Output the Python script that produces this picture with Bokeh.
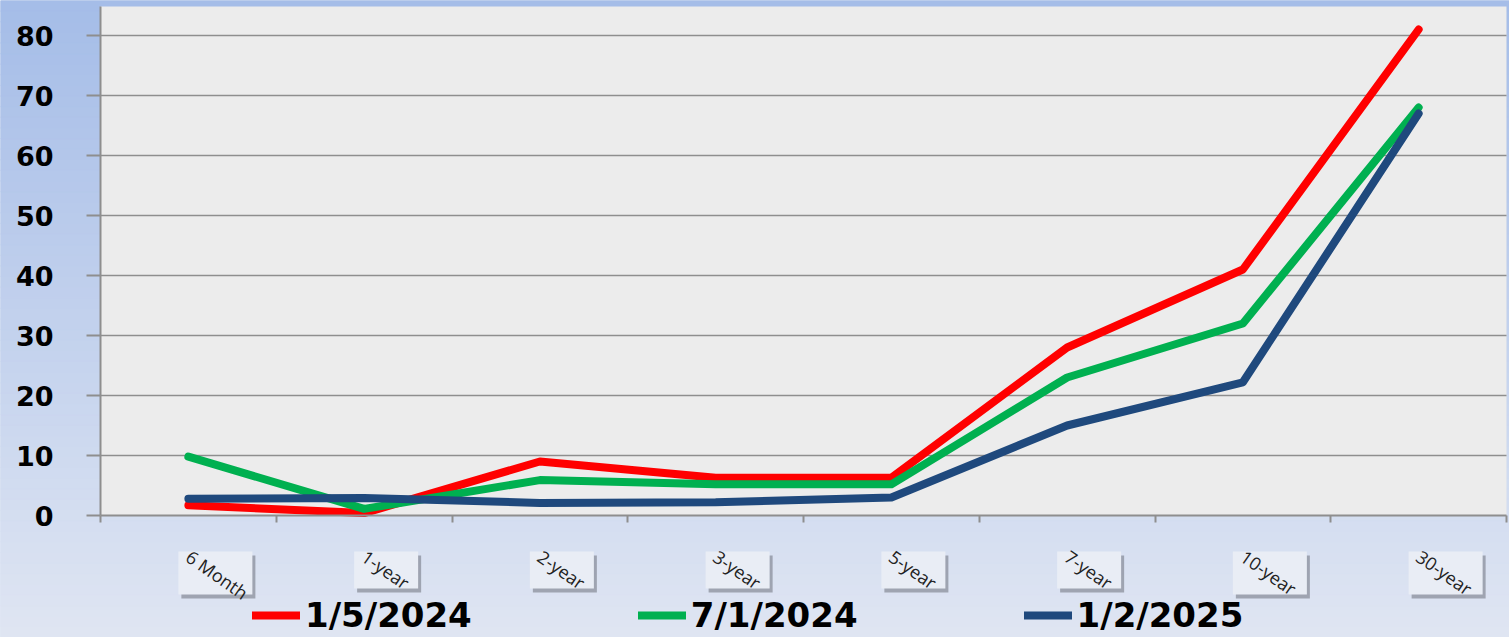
import math
import numpy as np
from bokeh.plotting import figure
from bokeh.models import Range1d, FixedTicker, Legend, LegendItem
from bokeh.embed import file_html
from bokeh.resources import INLINE

# ---------------- data ----------------
categories = ["6 Month", "1-year", "2-year", "3-year", "5-year", "7-year", "10-year", "30-year"]
series_names = ["1/5/2024", "7/1/2024", "1/2/2025"]
s_2024_01_05 = [1.7, 0.4, 9.0, 6.3, 6.3, 28, 41, 81]
s_2024_07_01 = [9.8, 1.1, 5.9, 5.2, 5.2, 23, 32, 68]
s_2025_01_02 = [2.8, 2.9, 2.1, 2.2, 3.0, 15, 22.2, 67]
series_colors = ["#ff0000", "#00b050", "#1f497d"]
y_ticks = [0, 10, 20, 30, 40, 50, 60, 70, 80]

# ---------------- geometry ----------------
W, H = 1509, 637
left_px, right_px, top_px, zero_px = 100, 1506, 6, 515
n = len(categories)
px_per_cat = (right_px - left_px) / n
px_per_unit = 6.0
x_start = -left_px / px_per_cat
x_end = (W - left_px) / px_per_cat
y_start = -(H - zero_px) / px_per_unit
y_end = zero_px / px_per_unit
y_top = (zero_px - top_px) / px_per_unit

centers = [i + 0.5 for i in range(n)]

p = figure(width=W, height=H, x_range=Range1d(x_start, x_end), y_range=Range1d(y_start, y_end),
           min_border=0, toolbar_location=None, output_backend="svg")
p.outline_line_color = None
p.border_fill_color = "#c4d2ec"
p.background_fill_color = "#c4d2ec"
p.grid.visible = False

# background gradient strips
ns = 60
edges = np.linspace(y_start, y_end, ns + 1)
c_bot = np.array([0xe0, 0xe6, 0xf3])
c_top = np.array([0xa5, 0xbd, 0xe8])
cols = []
for k in range(ns):
    t = (k + 0.5) / ns
    c = (c_bot * (1 - t) + c_top * t).astype(int)
    cols.append("#%02x%02x%02x" % tuple(c))
p.quad(left=x_start, right=x_end, bottom=edges[:-1], top=edges[1:], fill_color=cols, line_color=cols, line_width=1)

# plot area
p.quad(left=0, right=n, bottom=0, top=y_top, fill_color="#ececec", line_color=None)

# grid lines
p.segment(x0=0, x1=n, y0=y_ticks[1:], y1=y_ticks[1:], line_color="#8e8e8e", line_width=1.6)

# category label boxes (with shadow)
bl, br, bb, bt = [], [], [], []
for i, c in enumerate(categories):
    w_px = 10 * len(c) + 4
    h_px = 6 * len(c) + 1
    l = centers[i] - 10 / px_per_cat
    t = -36 / px_per_unit
    bl.append(l); br.append(l + w_px / px_per_cat)
    bt.append(t); bb.append(t - h_px / px_per_unit)
sx = 3 / px_per_cat
sy = 4 / px_per_unit
p.quad(left=[v + sx for v in bl], right=[v + sx for v in br], bottom=[v - sy for v in bb],
       top=[v - sy for v in bt], fill_color="#6d717c", fill_alpha=0.55, line_color=None)
p.quad(left=bl, right=br, bottom=bb, top=bt, fill_color="#e9edf5", line_color=None)

# lines
renderers = []
for vals, col in zip([s_2024_01_05, s_2024_07_01, s_2025_01_02], series_colors):
    r = p.line(x=centers, y=vals, line_color=col, line_width=8, line_cap="round", line_join="round")
    renderers.append(r)

# axes
yax = p.yaxis[0]
yax.fixed_location = 0
yax.ticker = FixedTicker(ticks=y_ticks, minor_ticks=[])
yax.bounds = (0, y_top)
yax.axis_line_color = "#8e8e8e"
yax.axis_line_width = 2
yax.major_tick_out = 14
yax.major_tick_in = 0
yax.major_tick_line_color = "#8e8e8e"
yax.major_tick_line_width = 2
yax.minor_tick_line_color = None
yax.major_label_text_font = "DejaVu Sans"
yax.major_label_text_font_style = "bold"
yax.major_label_text_font_size = "27px"
yax.major_label_text_color = "#000000"
yax.major_label_standoff = 33

xax = p.xaxis[0]
xax.fixed_location = 0
xax.ticker = FixedTicker(ticks=centers, minor_ticks=list(range(n + 1)))
xax.bounds = (0, n)
xax.axis_line_color = "#8e8e8e"
xax.axis_line_width = 2
xax.major_tick_line_color = None
xax.major_tick_out = 0
xax.major_tick_in = 0
xax.minor_tick_out = 7
xax.minor_tick_in = 0
xax.minor_tick_line_color = "#8e8e8e"
xax.minor_tick_line_width = 2
xax.major_label_overrides = {c: lab for c, lab in zip(centers, categories)}
xax.major_label_orientation = -0.61
xax.major_label_text_font = "Open Sans"
xax.major_label_text_font_size = "18px"
xax.major_label_text_color = "#222222"
xax.major_label_standoff = 32

legend = Legend(items=[LegendItem(label=nm, renderers=[r]) for nm, r in zip(series_names, renderers)],
                orientation="horizontal", location=(252, 2), glyph_width=48, glyph_height=20,
                label_standoff=5, spacing=166, padding=0, margin=0,
                background_fill_alpha=0, border_line_color=None,
                label_text_font="DejaVu Sans", label_text_font_style="bold",
                label_text_font_size="34px", label_text_color="#000000")
p.add_layout(legend)

open("out.html", "w").write(file_html(p, INLINE))
